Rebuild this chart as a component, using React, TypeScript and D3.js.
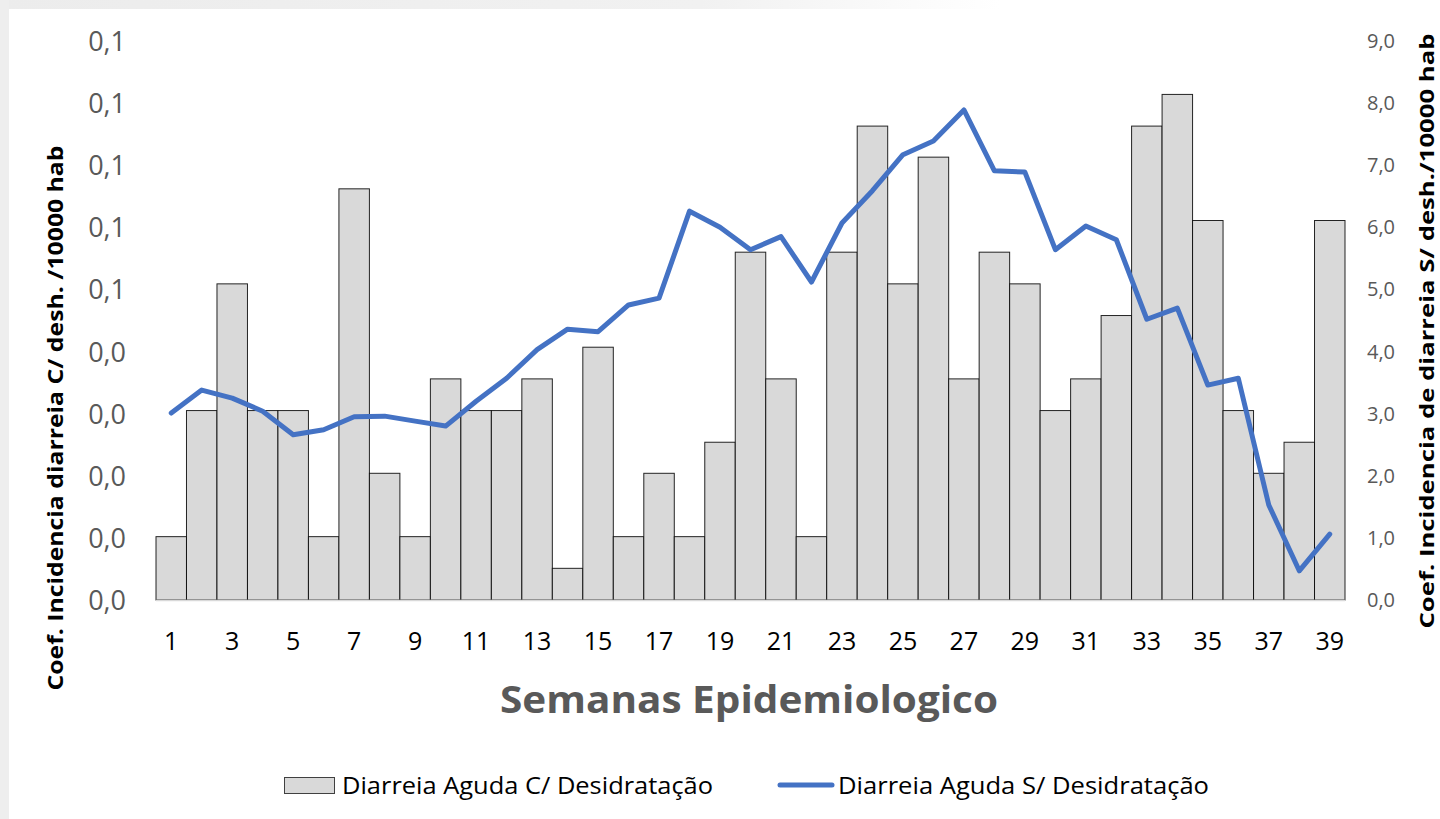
import React from "react";
import * as d3 from "d3";

const weeks: number[] = Array.from({ length: 39 }, (_, i) => i + 1);
// Coef. incidência C/ desidratação (left axis)
const comDesidratacao: number[] = [
  0.0102, 0.0305, 0.0509, 0.0305, 0.0305, 0.0102, 0.0662, 0.0204, 0.0102, 0.0356,
  0.0305, 0.0305, 0.0356, 0.0051, 0.0407, 0.0102, 0.0204, 0.0102, 0.0254, 0.056,
  0.0356, 0.0102, 0.056, 0.0763, 0.0509, 0.0713, 0.0356, 0.056, 0.0509, 0.0305,
  0.0356, 0.0458, 0.0763, 0.0814, 0.0611, 0.0305, 0.0204, 0.0254, 0.0611,
];
// Coef. incidência S/ desidratação (right axis)
const semDesidratacao: number[] = [
  3.01, 3.38, 3.25, 3.04, 2.66, 2.74, 2.95, 2.96, 2.88, 2.8,
  3.2, 3.57, 4.03, 4.36, 4.32, 4.75, 4.86, 6.26, 6.0, 5.64,
  5.85, 5.12, 6.07, 6.59, 7.17, 7.39, 7.89, 6.91, 6.89, 5.64,
  6.02, 5.8, 4.52, 4.7, 3.46, 3.57, 1.53, 0.47, 1.06,
];
const leftTicks: number[] = [0, 0.01, 0.02, 0.03, 0.04, 0.05, 0.06, 0.07, 0.08, 0.09];
const rightTicks: number[] = [0, 1, 2, 3, 4, 5, 6, 7, 8, 9];
const xTickLabels: number[] = weeks.filter((w) => w % 2 === 1);

const FONT = "'Open Sans', 'Noto Sans', sans-serif";

export default function App() {
  const W = 1440, H = 819;
  const x = d3.scaleBand<number>().domain(weeks).range([156, 1345]).paddingInner(0).paddingOuter(0);
  const yL = d3.scaleLinear().domain([0, 0.09]).range([600, 41]);
  const yR = d3.scaleLinear().domain([0, 9]).range([600, 41]);
  const fmt = (v: number) => (Math.round(v * 10 + 1e-9) / 10).toFixed(1).replace(".", ",");
  const line = d3
    .line<number>()
    .x((_, i) => (x(weeks[i]) as number) + x.bandwidth() / 2)
    .y((d) => yR(d));

  return (
    <svg
      width={W}
      height={H}
      style={{ position: "absolute", left: 0, top: 0, display: "block" }}
      fontFamily={FONT}
    >
      <defs>
        <linearGradient id="topg" x1="0" x2="1" y1="0" y2="0">
          <stop offset="0" stopColor="#ececec" />
          <stop offset="0.7" stopColor="#f1f1f1" />
          <stop offset="1" stopColor="#ffffff" />
        </linearGradient>
      </defs>
      <rect x={0} y={0} width={W} height={H} fill="#ffffff" />
      <rect x={0} y={0} width={1000} height={9} fill="url(#topg)" />
      <rect x={0} y={0} width={9} height={H} fill="#eeeeee" />

      {/* bars */}
      {comDesidratacao.map((v, i) => (
        <rect
          key={i}
          x={x(weeks[i])}
          y={yL(v)}
          width={x.bandwidth()}
          height={600 - yL(v)}
          fill="#d9d9d9"
          stroke="#000"
          strokeWidth={1}
          strokeOpacity={0.85}
        />
      ))}
      {/* baseline */}
      <line x1={156} x2={1345} y1={600.5} y2={600.5} stroke="#d9d9d9" strokeWidth={1.5} />

      {/* line */}
      <path
        d={line(semDesidratacao) || ""}
        fill="none"
        stroke="#4472c4"
        strokeWidth={5}
        strokeLinejoin="round"
        strokeLinecap="round"
      />

      {/* left axis labels */}
      {leftTicks.map((t) => (
        <text key={t} x={126} y={yL(t) + 10} textAnchor="end" fontSize={27} fill="#595959">
          {fmt(t)}
        </text>
      ))}
      {/* right axis labels */}
      {rightTicks.map((t) => (
        <text key={t} x={1367} y={yR(t) + 7} textAnchor="start" fontSize={20} fill="#595959">
          {fmt(t)}
        </text>
      ))}
      {/* x labels */}
      {xTickLabels.map((w) => (
        <text
          key={w}
          x={(x(w) as number) + x.bandwidth() / 2}
          y={650}
          textAnchor="middle"
          fontSize={25}
          fill="#000"
        >
          {w}
        </text>
      ))}

      {/* axis titles */}
      <text
        transform="translate(63,418) rotate(-90)"
        textAnchor="middle"
        fontSize={21}
        fontWeight="bold"
        fill="#000"
        textLength={545}
        lengthAdjust="spacingAndGlyphs"
      >
        Coef. Incidencia diarreia C/ desh. /10000 hab
      </text>
      <text
        transform="translate(1434,331) rotate(-90)"
        textAnchor="middle"
        fontSize={20}
        fontWeight="bold"
        fill="#000"
        textLength={595}
        lengthAdjust="spacingAndGlyphs"
      >
        Coef. Incidencia de diarreia S/ desh./10000 hab
      </text>
      <text
        x={749}
        y={713}
        textAnchor="middle"
        fontSize={37}
        fontWeight="bold"
        fill="#595959"
        textLength={498}
        lengthAdjust="spacingAndGlyphs"
      >
        Semanas Epidemiologico
      </text>

      {/* legend */}
      <rect x={284.5} y={777.5} width={50} height={16} fill="#d9d9d9" stroke="#404040" strokeWidth={1} />
      <text x={342} y={794} fontSize={23} fill="#000" textLength={371} lengthAdjust="spacingAndGlyphs">
        Diarreia Aguda C/ Desidratação
      </text>
      <line x1={780} x2={832} y1={785} y2={785} stroke="#4472c4" strokeWidth={5} strokeLinecap="round" />
      <text x={838} y={794} fontSize={23} fill="#000" textLength={371} lengthAdjust="spacingAndGlyphs">
        Diarreia Aguda S/ Desidratação
      </text>
    </svg>
  );
}
